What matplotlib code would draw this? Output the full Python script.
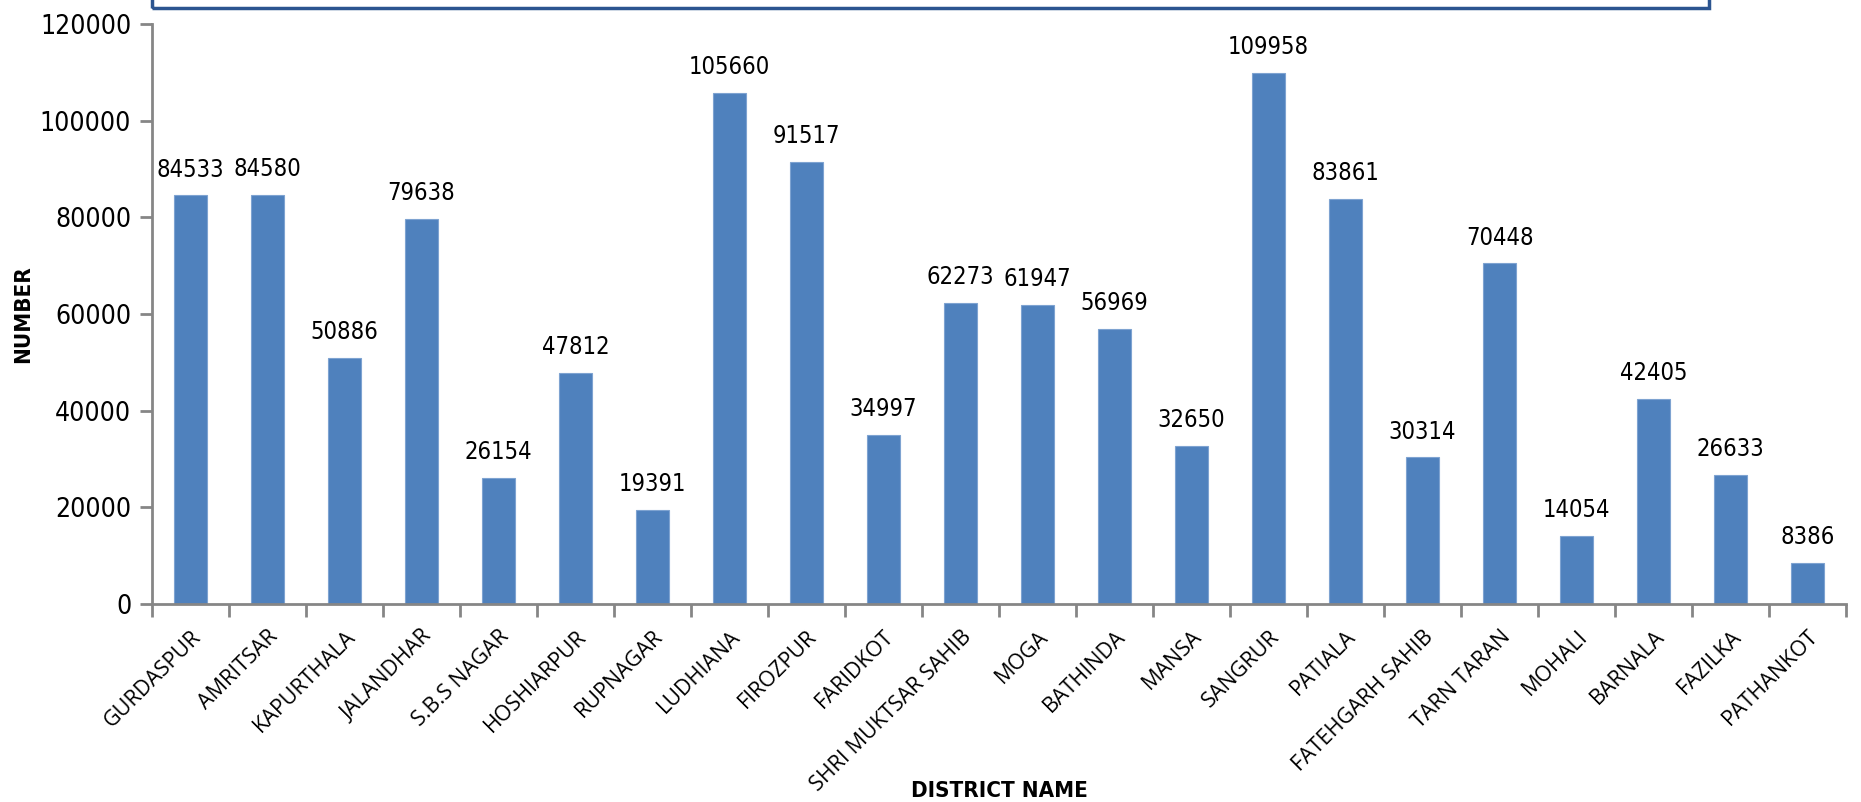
import matplotlib
matplotlib.use('Agg')
import matplotlib.pyplot as plt
from matplotlib.patches import Rectangle
from matplotlib.ticker import FixedLocator

districts = ['GURDASPUR', 'AMRITSAR', 'KAPURTHALA', 'JALANDHAR', 'S.B.S NAGAR',
             'HOSHIARPUR', 'RUPNAGAR', 'LUDHIANA', 'FIROZPUR', 'FARIDKOT',
             'SHRI MUKTSAR SAHIB', 'MOGA', 'BATHINDA', 'MANSA', 'SANGRUR',
             'PATIALA', 'FATEHGARH SAHIB', 'TARN TARAN', 'MOHALI', 'BARNALA',
             'FAZILKA', 'PATHANKOT']
numbers = [84533, 84580, 50886, 79638, 26154, 47812, 19391, 105660, 91517,
           34997, 62273, 61947, 56969, 32650, 109958, 83861, 30314, 70448,
           14054, 42405, 26633, 8386]
y_ticks = [0, 20000, 40000, 60000, 80000, 100000, 120000]

LABEL_FONT = ['Open Sans', 'DejaVu Sans']
AXIS_GREY = '#868686'

fig = plt.figure(figsize=(18.61, 8.02), dpi=100)
ax = fig.add_axes([0.0817, 0.247, 0.9103, 0.723])

x = list(range(len(districts)))
ax.bar(x, numbers, width=0.42, color='#4F81BD', edgecolor='#7EA3D1',
       linewidth=0.8, zorder=2)

for xi, val in zip(x, numbers):
    ax.annotate(str(val), (xi, val), xytext=(0, 10), textcoords='offset points',
                ha='center', va='bottom', fontsize=17, family='DejaVu Sans',
                fontstretch='condensed')

ax.set_xlim(-0.5, len(districts) - 0.5)
ax.set_ylim(0, 120000)
ax.set_yticks(y_ticks)
ax.set_yticklabels([str(t) for t in y_ticks], family='DejaVu Sans',
                   fontstretch='condensed', fontsize=19)

ax.set_xticks(x)
ax.set_xticklabels(districts, rotation=45, ha='right', rotation_mode='anchor',
                   family=LABEL_FONT, fontsize=15.5)
ax.xaxis.set_minor_locator(FixedLocator([i - 0.5 for i in range(len(districts) + 1)]))
ax.tick_params(axis='x', which='major', length=0, pad=16)
ax.tick_params(axis='x', which='minor', length=9, width=2, color=AXIS_GREY)
ax.tick_params(axis='y', length=9, width=2, color=AXIS_GREY, pad=6)

for side in ['top', 'right']:
    ax.spines[side].set_visible(False)
for side in ['left', 'bottom']:
    ax.spines[side].set_color(AXIS_GREY)
    ax.spines[side].set_linewidth(2)

ax.set_ylabel('NUMBER', family='DejaVu Sans', fontstretch='condensed',
              fontsize=16, fontweight='bold')
ax.set_xlabel('DISTRICT NAME', family='DejaVu Sans', fontstretch='condensed',
              fontsize=16, fontweight='bold')
ax.xaxis.set_label_coords(0.5, -0.305)
ax.yaxis.set_label_coords(-0.07, 0.5)

# clipped title box at the top
fig.patches.append(Rectangle((152 / 1861, 1 - 8 / 802), (1709 - 152) / 1861, 0.2,
                             transform=fig.transFigure, fill=False,
                             edgecolor='#2C5590', linewidth=2.5))

fig.savefig('out.png', dpi=100)
